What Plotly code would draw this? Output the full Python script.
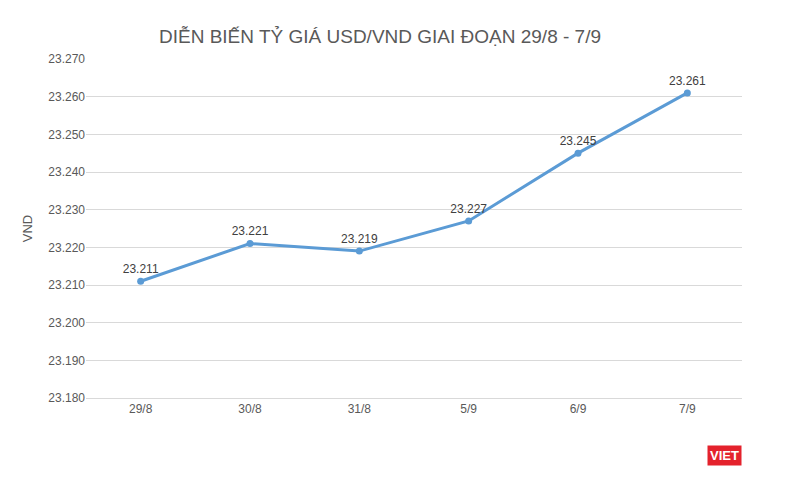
import plotly.graph_objects as go

dates = ["29/8", "30/8", "31/8", "5/9", "6/9", "7/9"]
rates = [23211, 23221, 23219, 23227, 23245, 23261]
y_ticks = list(range(23180, 23271, 10))

fig = go.Figure(go.Scatter(
    x=dates, y=rates,
    mode="lines+markers+text",
    line=dict(color="#5b9bd5", width=3),
    marker=dict(size=7, color="#5b9bd5"),
    text=[f"{v:,}".replace(",", ".") for v in rates],
    textposition="top center",
    textfont=dict(size=12, color="#404040"),
    cliponaxis=False,
))

fig.update_layout(
    width=800, height=479,
    paper_bgcolor="white", plot_bgcolor="white",
    font=dict(family="Liberation Sans, Arial", color="#595959"),
    separators=",.",
    title=dict(text="DIỄN BIẾN TỶ GIÁ USD/VND GIAI ĐOẠN 29/8 - 7/9",
               x=0.465, xanchor="center", yref="container", y=0.94,
               yanchor="middle",
               font=dict(size=19, color="#595959")),
    margin=dict(l=78, r=66, t=51, b=89),
    showlegend=False,
)
fig.update_xaxes(showgrid=False, showline=True, linecolor="#d9d9d9",
                 range=[-0.5, 5.5],
                 tickfont=dict(size=12, color="#595959"), ticks="")
fig.update_yaxes(range=[23180, 23270], tickvals=y_ticks, tickformat=",.0f",
                 gridcolor="#d9d9d9", zeroline=False,
                 tickfont=dict(size=12, color="#595959"),
                 title=dict(text="VND", font=dict(size=13, color="#595959"), standoff=12))

fig.add_annotation(text="<b>VIET</b>", xref="paper", yref="paper",
                   x=1.0, y=-0.2, xanchor="right", showarrow=False,
                   font=dict(size=13, color="white"), bgcolor="#e4222c",
                   borderpad=2)

fig.write_html("out.html")
